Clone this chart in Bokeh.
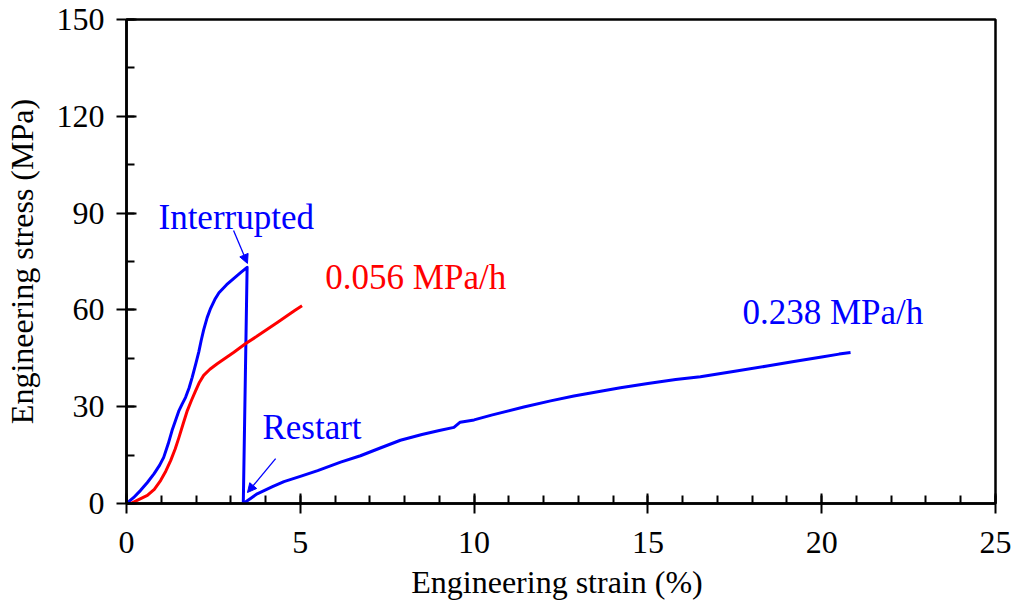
from bokeh.plotting import figure
from bokeh.models import Arrow, NormalHead, Label, FixedTicker
from bokeh.embed import file_html
from bokeh.resources import INLINE

# Interrupted test (blue, first loading), then the drop
int_x = [0.0, 0.2, 0.40, 0.6, 0.79, 0.95, 1.07, 1.2, 1.31, 1.42, 1.51, 1.6, 1.70, 1.8, 1.89, 2.0, 2.08, 2.15,
         2.22, 2.32, 2.42, 2.54, 2.66, 2.88, 3.09, 3.3, 3.47, 3.42, 3.36]
int_y = [0.0, 1.8, 4.0, 6.5, 9.2, 11.8, 14.3, 18.5, 22.6, 26.0, 28.8, 30.8, 32.9, 35.8, 39.1, 43.6, 47.0, 50.6,
         53.8, 57.6, 60.5, 63.2, 65.3, 67.8, 69.8, 71.7, 73.2, 40.0, 0.0]

# Restart (blue, 0.238 MPa/h)
res_x = [3.36, 3.6, 3.76, 4.2, 4.53, 5.0, 5.5, 6.16, 6.73, 7.3, 7.88, 8.5, 9.0, 9.42, 9.6, 10.0, 10.5, 11.43,
         12.2, 12.87, 13.64, 14.21, 15.0, 15.8, 16.51, 17.5, 18.43, 19.2, 20.0, 20.5, 20.83]
res_y = [0.0, 1.8, 3.0, 5.2, 6.8, 8.4, 10.2, 12.8, 14.8, 17.2, 19.6, 21.4, 22.6, 23.6, 25.2, 25.9, 27.4, 29.9,
         31.8, 33.3, 34.8, 35.9, 37.2, 38.4, 39.3, 41.0, 42.6, 44.0, 45.4, 46.3, 46.8]

# 0.056 MPa/h (red)
red_x = [0.12, 0.35, 0.60, 0.8, 0.98, 1.13, 1.27, 1.4, 1.51, 1.63, 1.75, 1.87, 1.99, 2.1, 2.22, 2.4, 2.61,
         2.85, 3.09, 3.42, 3.75, 4.05, 4.35, 4.62, 4.85, 5.05]
red_y = [0.0, 1.2, 2.5, 4.4, 7.1, 10.0, 13.3, 16.9, 20.5, 24.7, 28.8, 32.0, 35.0, 37.6, 39.7, 41.6, 43.3,
         45.1, 46.9, 49.5, 51.8, 54.0, 56.2, 58.2, 59.9, 61.3]

x_major = [0, 5, 10, 15, 20, 25]
x_minor = [i for i in range(0, 26)]
y_major = [0, 30, 60, 90, 120, 150]
y_minor = [0, 15, 30, 45, 60, 75, 90, 105, 120, 135, 150]

FONT = "Liberation Serif"
BLUE = "#0000ff"
RED = "#ff0000"

p = figure(width=1011, height=604, output_backend="svg", toolbar_location=None,
           x_range=(0, 25), y_range=(0, 150),
           min_border_left=126, min_border_right=16, min_border_top=19, min_border_bottom=101)
p.xgrid.visible = False
p.ygrid.visible = False
p.outline_line_color = "black"
p.outline_line_width = 2.5
p.background_fill_color = "white"
p.border_fill_color = "white"

p.line(int_x, int_y, color=BLUE, line_width=3, line_join="round")
p.line(res_x, res_y, color=BLUE, line_width=3, line_join="round")
p.line(red_x, red_y, color=RED, line_width=3, line_join="round")

for ax, maj, mnr in ((p.xaxis[0], x_major, x_minor), (p.yaxis[0], y_major, y_minor)):
    ax.ticker = FixedTicker(ticks=maj, minor_ticks=mnr)
    ax.axis_line_width = 2.5
    ax.major_tick_line_width = 2
    ax.minor_tick_line_width = 2
    ax.major_tick_in = 10
    ax.major_tick_out = 10
    ax.minor_tick_in = 8
    ax.minor_tick_out = 0
    ax.major_label_text_font = FONT
    ax.major_label_text_font_size = "32px"
    ax.major_label_text_color = "black"
    ax.axis_label_text_font = FONT
    ax.axis_label_text_font_size = "32px"
    ax.axis_label_text_font_style = "normal"
    ax.axis_label_text_color = "black"

p.xaxis.axis_label = "Engineering strain  (%)"
p.yaxis.axis_label = "Engineering stress (MPa)"
p.xaxis.major_label_standoff = 18
p.yaxis.major_label_standoff = 12
p.xaxis.axis_label_standoff = 8
p.yaxis.axis_label_standoff = 14

labels = [("Interrupted", 0.92, 88.6, BLUE), ("0.056 MPa/h", 5.72, 70.0, RED),
          ("0.238 MPa/h", 17.72, 59.2, BLUE), ("Restart", 3.91, 23.6, BLUE)]
for t, lx, ly, c in labels:
    p.add_layout(Label(x=lx, y=ly, text=t, text_color=c, text_font=FONT, text_font_size="35px",
                       text_baseline="middle", text_align="left"))

arrows = [(3.08, 84.6, 3.48, 74.4), (4.29, 13.9, 3.48, 3.4)]
for x0, y0, x1, y1 in arrows:
    p.add_layout(Arrow(x_start=x0, y_start=y0, x_end=x1, y_end=y1, line_color=BLUE, line_width=1.3,
                       end=NormalHead(size=9, fill_color=BLUE, line_color=BLUE)))

open("out.html", "w").write(file_html(p, INLINE))
